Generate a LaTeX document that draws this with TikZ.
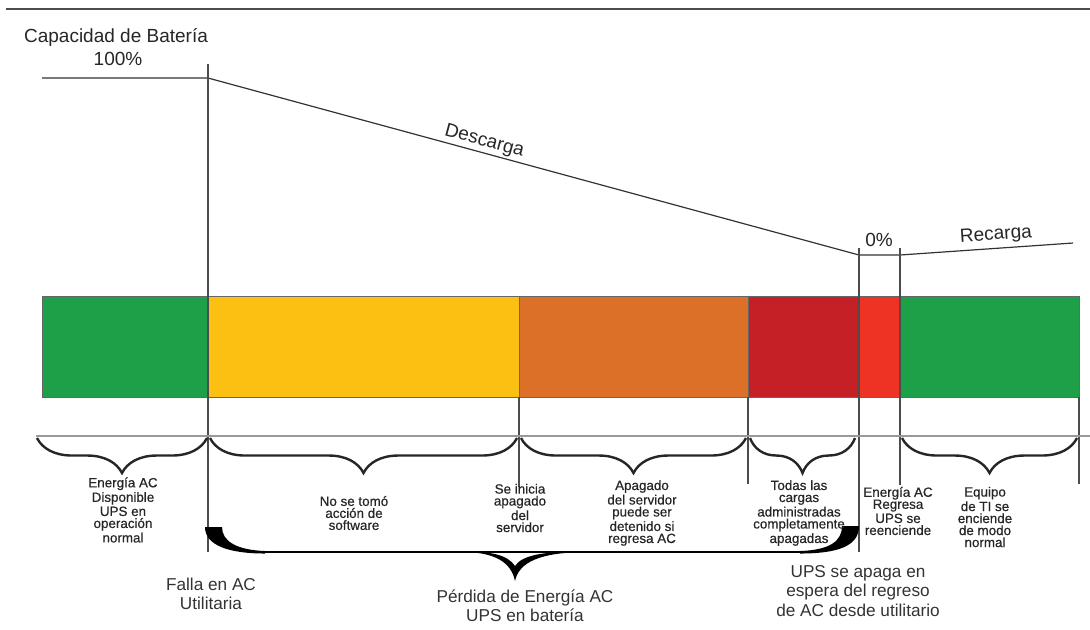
\documentclass[tikz,border=0pt]{standalone}
\usepackage{fontspec}
\setmainfont{Liberation Sans}
\newfontfamily\smallfont[FakeBold=0.5]{Liberation Sans}
\usetikzlibrary{decorations.pathreplacing}
\definecolor{bargreen}{HTML}{1DA047}
\definecolor{baryellow}{HTML}{FBC012}
\definecolor{barorange}{HTML}{DC7028}
\definecolor{bardarkred}{HTML}{C52026}
\definecolor{barred}{HTML}{EE3224}
\tikzset{
  seg/.style={draw=black!60, line width=0.5pt},
  tick/.style={black!70, line width=0.7pt},
  small/.style={font=\smallfont\fontsize{6.7}{6}\selectfont, align=center, text=black!85},
  big/.style={font=\fontsize{8.6}{9.6}\selectfont, align=center, text=black!80},
  curve/.style={font=\fontsize{9.5}{11}\selectfont, text=black!85},
  brc/.style={decorate, decoration={brace, mirror, amplitude=17.5pt}, line width=1.2pt, black!85},
}
\begin{document}
\begin{tikzpicture}[x=0.5pt,y=-0.5pt]
  \useasboundingbox (0,0) rectangle (1090,629);
  \draw[black!70, line width=1pt] (6,9) -- (1090,9);
  % bar
  \foreach \a/\b/\c in {42/208/bargreen, 208/519/baryellow, 519/748/barorange,
                        748/859/bardarkred, 859/900/barred, 900/1079/bargreen}
    \draw[seg, fill=\c] (\a,296) rectangle (\b,397);
  % capacity curve
  \coordinate (full0) at (42,78);
  \coordinate (full1) at (208,78);
  \coordinate (empty0) at (859,255);
  \coordinate (empty1) at (900,255);
  \coordinate (recharged) at (1073,243);
  \draw[black!80, line width=0.6pt] (full0) -- (full1)
    -- node[curve, sloped, above, pos=0.42, inner sep=1pt] (descarga) {Descarga} (empty0)
    -- (empty1)
    -- node[curve, sloped, above, pos=0.56, inner sep=2pt] (recarga) {Recarga} (recharged);
  \node[curve] (capacidad) at (116,37) {Capacidad de Batería};
  \node[curve] (lleno) at (118,59) {100\%};
  \node[curve] (vacio) at (879,240) {0\%};
  % verticals
  \draw[tick] (208,64) -- (208,552);
  \draw[tick] (859,248) -- (859,552);
  \draw[tick] (900,248) -- (900,485);
  \draw[tick] (519,397) -- (519,487);
  \draw[tick] (748,397) -- (748,484);
  \draw[tick] (1079,397) -- (1079,484);
  \draw[black!40, line width=1pt] (36,436) -- (1090,436);
  % small braces
  \draw[brc] (37,438) -- (207,438);
  \draw[brc] (210,438) -- (517,438);
  \draw[brc] (521,438) -- (746,438);
  \draw[brc] (750,438) -- (855,438);
  \draw[brc] (902,438) -- (1077,438);
  % big brace
  \fill[black] (205,527) -- (222,527) .. controls (222,542) and (238,550) .. (265,551)
    -- (265,553.5) .. controls (228,553.5) and (205,545) .. cycle;
  \draw[black, line width=1pt] (262,552) -- (805,552);
  \fill[black] (466,552) .. controls (495,553) and (511,562) .. (515,581)
    .. controls (519,562) and (540,553) .. (582,552)
    .. controls (545,551) and (522,555) .. (515,566)
    .. controls (508,555) and (490,551) .. cycle;
  \fill[black] (859,526) -- (842,526) .. controls (842,541) and (830,550) .. (800,551)
    -- (800,553.5) .. controls (838,553.5) and (859,546) .. cycle;
  % texts
  \node[small] (normal) at (123,510) {Energía AC\\Disponible\\UPS en\\operación\\normal};
  \node[small] (nosoft) at (354,513) {No se tomó\\acción de\\software};
  \node[small] (inicia) at (520,508) {Se inicia\\apagado\\del\\servidor};
  \node[small] (detenido) at (642,513) {Apagado\\del servidor\\puede ser\\detenido si\\regresa AC};
  \node[small] (apagadas) at (799,513) {Todas las\\cargas\\administradas\\completamente\\apagadas};
  \node[small] (regresa) at (898,511) {Energía AC\\Regresa\\UPS se\\reenciende};
  \node[small] (encendido) at (985,517) {Equipo\\de TI se\\enciende\\de modo\\normal};
  \node[big] (falla) at (211,594) {Falla en AC\\Utilitaria};
  \node[big] (perdida) at (525,606) {Pérdida de Energía AC\\UPS en batería};
  \node[big] (espera) at (858,591) {UPS se apaga en\\espera del regreso\\de AC desde utilitario};
\end{tikzpicture}
\end{document}
